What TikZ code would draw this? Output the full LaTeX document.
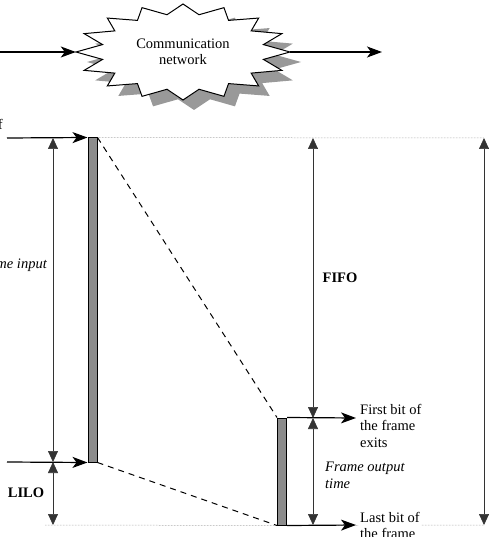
\documentclass[tikz,border=0pt]{standalone}
\usepackage{fontspec}
\setmainfont{Liberation Serif}
\usetikzlibrary{arrows.meta, shapes.geometric, positioning, calc}

\begin{document}
\begin{tikzpicture}[x=1pt, y=-1pt,
    every node/.style={font=\fontsize{14.5}{16.5}\selectfont, inner sep=0pt},
    flow/.style={line width=1.2pt, -{Stealth[length=15pt, width=11pt, inset=4pt]}},
    dimline/.style={line width=0.7pt, black!80, {Triangle[length=11pt, width=10pt]}-{Triangle[length=11pt, width=10pt]}},
    guide/.style={gray, line width=0.5pt, densely dotted},
    dashline/.style={line width=1pt, dash pattern=on 6pt off 5pt},
    framebar/.style={draw, line width=1pt, fill=black!45, minimum width=9pt},
    lbl/.style={align=left, anchor=north west}]

\useasboundingbox (0,0) rectangle (494,537);

% Communication network (16-point star, with shadow)
\fill[black!40, shift={(194,62)}] plot[samples at={0,...,31}]
    ({(107-25*mod(\x,2))*cos(\x*11.25)},{(48-10*mod(\x,2))*sin(\x*11.25)}) -- cycle;
\draw[fill=white, line width=1pt, shift={(183,52)}] plot[samples at={0,...,31}]
    ({(107-25*mod(\x,2))*cos(\x*11.25)},{(48-10*mod(\x,2))*sin(\x*11.25)}) -- cycle;
\node[ellipse, minimum width=214pt, minimum height=96pt, align=center] (net) at (183,52) {Communication\\network};
\coordinate (src) at (0,52);
\coordinate (dst) at (382,52);
\draw[flow] (src) -- (net.west);
\draw[flow] (net.east) -- (dst);

% Frame bars
\node[framebar, minimum height=324pt] (inbar) at (92.5,300) {};
\node[framebar, minimum height=107pt] (outbar) at (282,471.5) {};

% Guide lines
\coordinate (rA) at (484,138);
\coordinate (rC) at (484,525);
\coordinate (botL) at (45,525);
\draw[guide] (inbar.north east) -- (rA);
\draw[guide] (botL) -- (outbar.south west);
\draw[guide] (outbar.south east) -- (rC);

% Bits entering and leaving
\coordinate (inTop) at (7,138);
\coordinate (inBot) at (7,462);
\coordinate (outTop) at (356,418);
\coordinate (outBot) at (356,525);
\draw[flow] (inTop) -- (inbar.north west);
\draw[flow] (inBot) -- (inbar.south west);
\draw[flow] (outbar.north east) -- (outTop);
\draw[flow] (outbar.south east) -- (outBot);
\draw[dashline] (inbar.north east) -- (outbar.north west);
\draw[dashline] (inbar.south east) -- (outbar.south west);

% Dimension arrows
\coordinate (lA) at (53,138);
\coordinate (lB) at (53,462);
\coordinate (lC) at (53,525);
\coordinate (mA) at (313,138);
\coordinate (mB) at (313,418);
\coordinate (mC) at (313,525);
\draw[dimline] (lA) -- (lB);
\draw[dimline] (lB) -- (lC);
\draw[dimline] (mA) -- (mB);
\draw[dimline] (mB) -- (mC);
\draw[dimline] (rA) -- (rC);

% Labels
\node[anchor=east] (enterlbl) at (3,124) {First bit of};
\node[anchor=east, font=\fontsize{14.5}{16.5}\selectfont\itshape] (inlbl) at (47,265) {Frame input};
\node[font=\fontsize{14.5}{16.5}\selectfont\bfseries] (lilo) at (26,493) {LILO};
\node[font=\fontsize{14.5}{16.5}\selectfont\bfseries] (fifo) at (340,278) {FIFO};
\node[lbl] (firstlbl) at (360,404) {First bit of\\the frame\\exits};
\node[lbl, font=\fontsize{14.5}{16.5}\selectfont\itshape] (outlbl) at (325,462) {Frame output\\time};
\node[lbl, fill=white, inner xsep=1pt] (lastlbl) at (359,512) {Last bit of\\the frame};

\end{tikzpicture}
\end{document}
